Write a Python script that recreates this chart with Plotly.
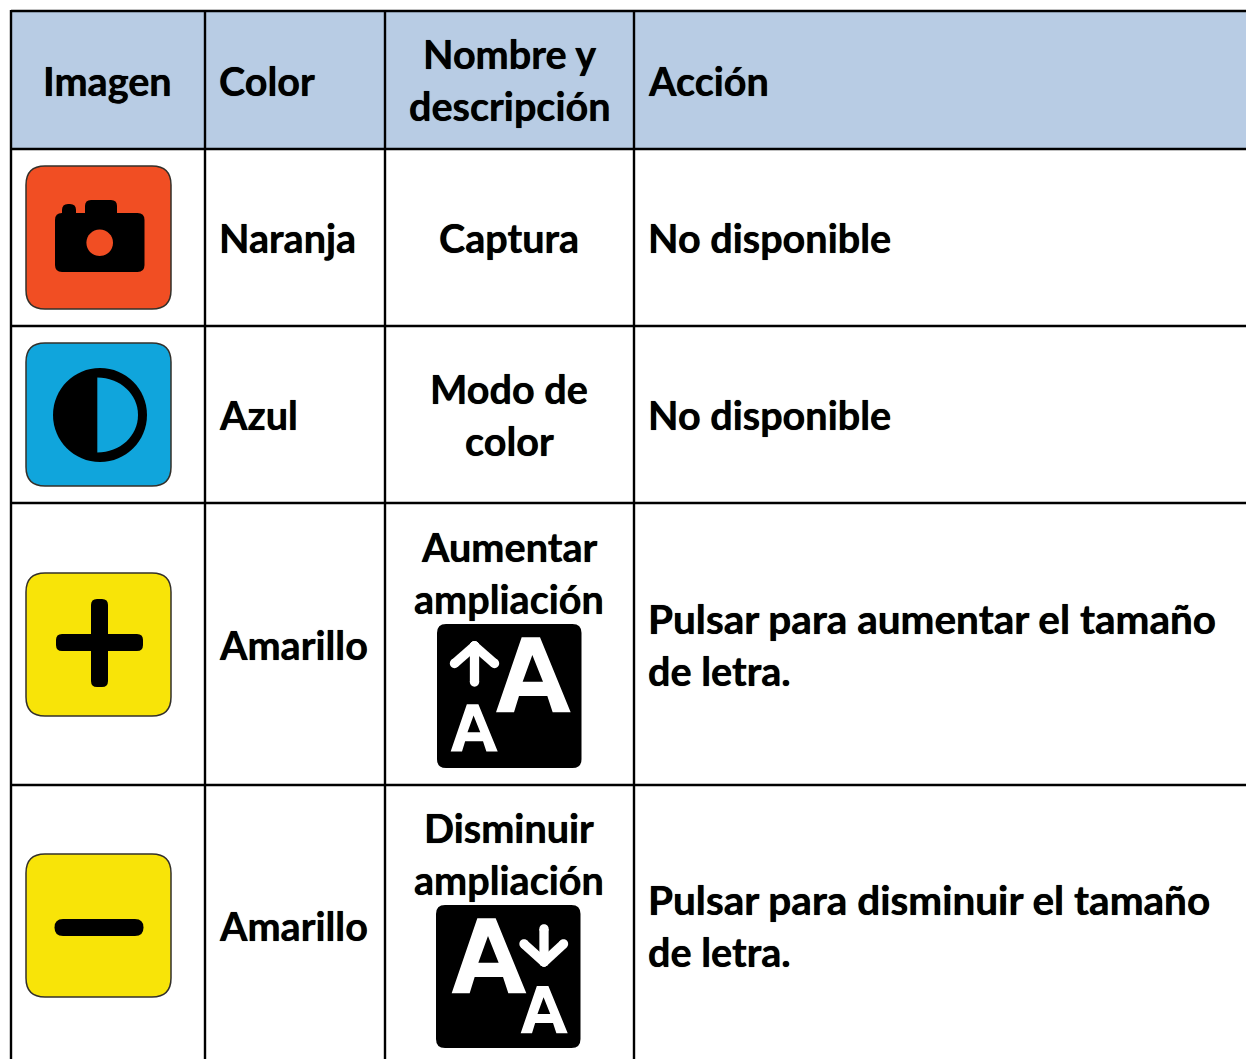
import plotly.graph_objects as go

# ---- table content ----
headers = [["Imagen"], ["Color"], ["Nombre y", "descripción"], ["Acción"]]
colors = ["Naranja", "Azul", "Amarillo", "Amarillo"]
names = [["Captura"], ["Modo de", "color"], ["Aumentar", "ampliación"], ["Disminuir", "ampliación"]]
actions = [["No disponible"], ["No disponible"],
           ["Pulsar para aumentar el tamaño", "de letra."],
           ["Pulsar para disminuir el tamaño", "de letra."]]
icon_fills = ["#F14E23", "#10A5DC", "#F8E408", "#F8E408"]

# ---- layout constants ----
W, H = 1246, 1059
FONT = "Lato"
FS = 39.6
FS_LONG = 40.5
LH = 52
col_lines = [11, 205, 385, 634]
row_lines = [11, 149, 326, 503, 785]
header_y = 80.5
row_mid = [237.5, 414.5, 644.5, 925.5]
name_mid = [237.5, 414.5, 572.5, 853.5]
action_mid = [237.5, 414.5, 644.5, 925.5]
icon_tops = [166, 343, 573, 854]

shapes, ann = [], []


def rrect(x0, y0, x1, y1, r):
    return (f"M{x0+r},{y0} L{x1-r},{y0} Q{x1},{y0} {x1},{y0+r} L{x1},{y1-r} Q{x1},{y1} {x1-r},{y1} "
            f"L{x0+r},{y1} Q{x0},{y1} {x0},{y1-r} L{x0},{y0+r} Q{x0},{y0} {x0+r},{y0} Z")


def circle(cx, cy, rx, ry=None):
    ry = ry or rx
    k = 0.5523
    return (f"M{cx-rx},{cy} C{cx-rx},{cy-k*ry} {cx-k*rx},{cy-ry} {cx},{cy-ry} "
            f"C{cx+k*rx},{cy-ry} {cx+rx},{cy-k*ry} {cx+rx},{cy} "
            f"C{cx+rx},{cy+k*ry} {cx+k*rx},{cy+ry} {cx},{cy+ry} "
            f"C{cx-k*rx},{cy+ry} {cx-rx},{cy+k*ry} {cx-rx},{cy} Z")


def poly(pts):
    return "M" + " L".join(f"{x:.2f},{y:.2f}" for x, y in pts) + " Z"


def add(path, fill="black", line=None, lw=0, rule=None):
    s = dict(type="path", path=path, fillcolor=fill, layer="above",
             line=dict(color=line or fill, width=lw))
    if rule:
        s["fillrule"] = rule
    shapes.append(s)


def text(s, x, y, anchor):
    size = FS_LONG if len(s) > 20 else FS
    ann.append(dict(x=x, y=y, text=s, showarrow=False, xanchor=anchor, yanchor="middle",
                    font=dict(family=FONT, size=size, color="black", weight="bold",
                              shadow="0 0 0.7px black"),
                    xref="x", yref="y"))


def lines_at(lines, x, mid, anchor):
    n = len(lines)
    for i, s in enumerate(lines):
        text(s, x, mid + (i - (n - 1) / 2) * LH, anchor)


def capsule(x1, y1, x2, y2, w, fill="white"):
    """round-capped stroke"""
    dx, dy = x2 - x1, y2 - y1
    d = (dx * dx + dy * dy) ** 0.5
    nx, ny = -dy / d * w / 2, dx / d * w / 2
    add(poly([(x1 + nx, y1 + ny), (x2 + nx, y2 + ny), (x2 - nx, y2 - ny), (x1 - nx, y1 - ny)]), fill)
    add(circle(x1, y1, w / 2), fill)
    add(circle(x2, y2, w / 2), fill)


# header fill
shapes.append(dict(type="rect", x0=col_lines[0], x1=W, y0=row_lines[0], y1=row_lines[1],
                   fillcolor="#B8CCE4", line=dict(width=0), layer="below"))
# grid
for x in col_lines:
    shapes.append(dict(type="line", x0=x, x1=x, y0=row_lines[0] - 1, y1=H, line=dict(color="black", width=2.4)))
for y in row_lines:
    shapes.append(dict(type="line", x0=col_lines[0], x1=W, y0=y, y1=y, line=dict(color="black", width=2.4)))

# text
lines_at(headers[0], 107.5, header_y, "center")
lines_at(headers[1], 216.5, header_y, "left")
lines_at(headers[2], 509.5, 79.5, "center")
lines_at(headers[3], 646, header_y, "left")
for i in range(4):
    text(colors[i], 217, row_mid[i], "left")
    lines_at(names[i], 509, name_mid[i], "center")
    lines_at(actions[i], 646, action_mid[i], "left")

# icon plates
for top, fill in zip(icon_tops, icon_fills):
    add(rrect(26, top, 171, top + 143, 19), fill, "#33302A", 1.5)

# camera
add(rrect(55, 213, 144.5, 272, 7))
add(rrect(85, 200, 117, 220, 6))
add(rrect(62, 204, 76, 220, 6))
add(poly([(55, 222), (62, 213), (62, 222)]))
add(circle(99.7, 242.7, 13.3), icon_fills[0])

# half circle
add(circle(100, 415, 47))
add("M97.3,377.5 C120,377.5 138,394 138,415 C138,436 120,452.5 97.3,452.5 Z", icon_fills[1])

# plus
add(rrect(91, 599, 108, 687, 6))
add(rrect(56, 634, 143, 651, 6))
# minus
add(rrect(54.5, 919, 143.5, 936, 8.5))


def letter_a(ox, oy, s):
    """Letter A outline at scale s"""
    outer = [(0, 225), (77, 0), (132, 0), (224, 225), (170, 225), (154, 176), (69, 176), (54, 225)]
    inner = [(80, 133), (109, 53), (141, 133)]
    p = lambda pts: [(ox + x * s / 3, oy + y * s / 3) for x, y in pts]
    add(poly(p(outer)) + " " + poly(p(inner)), "white", rule="evenodd")


# enlarge icon
add(rrect(437, 624, 581.5, 768, 9))
letter_a(420 + 228 / 3, 610 + 82 / 3, 1)
letter_a(420 + 92 / 3, 610 + 283 / 3, 0.63)
capsule(474.5, 646, 474.5, 682, 9.3)
capsule(454.5, 663.5, 474.5, 646, 9.3)
capsule(494.5, 663.5, 474.5, 646, 9.3)

# reduce icon
add(rrect(436, 905, 580.5, 1048, 9))
letter_a(420 + 95 / 3, 890 + 85 / 3, 1)
letter_a(420 + 302 / 3, 890 + 288 / 3, 0.63)
capsule(544, 929, 544, 962, 9.3)
capsule(524, 944, 544, 962, 9.3)
capsule(563.5, 944, 544, 962, 9.3)

fig = go.Figure()
fig.update_layout(
    width=W, height=H, margin=dict(l=0, r=0, t=0, b=0, pad=0),
    paper_bgcolor="white", plot_bgcolor="white", showlegend=False,
    xaxis=dict(range=[0, W], visible=False, fixedrange=True),
    yaxis=dict(range=[H, 0], visible=False, fixedrange=True),
    shapes=shapes, annotations=ann,
)
fig.write_html("out.html", config=dict(displayModeBar=False),
               post_script="document.body.style.margin='0';document.body.style.overflow='hidden';")
